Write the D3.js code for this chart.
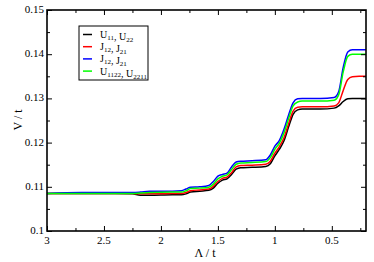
<!DOCTYPE html>
<html>
<head>
<meta charset="utf-8">
<script src="https://cdn.jsdelivr.net/npm/d3@7"></script>
<style>
html,body{margin:0;padding:0;background:#fff;}
svg{display:block;}
text{font-family:"Liberation Serif","Times New Roman",serif;}
</style>
</head>
<body>
<svg id="c" width="374" height="262"></svg>
<script>
const lambda = [3.0,2.7,2.4,2.25,2.18,2.1,1.9,1.82,1.78,1.74,1.66,1.58,1.54,1.50,1.46,1.42,1.38,1.34,1.30,1.20,1.08,1.04,1.00,0.96,0.92,0.88,0.84,0.80,0.76,0.60,0.48,0.44,0.40,0.36,0.32,0.26,0.20];
const U11 = [0.1085,0.1085,0.1085,0.1084,0.1081,0.1081,0.1082,0.1082,0.1084,0.1088,0.1090,0.1092,0.1097,0.1108,0.1115,0.1118,0.1128,0.1140,0.1143,0.1144,0.1146,0.1152,0.1170,0.1185,0.1204,0.1235,0.1264,0.1274,0.1276,0.1276,0.1278,0.1283,0.1293,0.1299,0.1300,0.1300,0.1300];
const J12 = [0.1085,0.1085,0.1085,0.1085,0.1084,0.1084,0.1085,0.1085,0.1087,0.1091,0.1093,0.1095,0.1101,0.1112,0.1119,0.1122,0.1132,0.1145,0.1148,0.1149,0.1151,0.1158,0.1176,0.1191,0.1211,0.1242,0.1271,0.1280,0.1281,0.1281,0.1283,0.1290,0.1318,0.1343,0.1349,0.1350,0.1350];
const J12p = [0.1085,0.1087,0.1087,0.1087,0.1088,0.1090,0.1090,0.1091,0.1095,0.1099,0.1100,0.1103,0.1112,0.1124,0.1128,0.1131,0.1145,0.1156,0.1158,0.1159,0.1161,0.1172,0.1192,0.1205,0.1230,0.1262,0.1290,0.1299,0.1300,0.1300,0.1302,0.1315,0.1370,0.1405,0.1410,0.1410,0.1410];
const U1122 = [0.1085,0.1085,0.1085,0.1085,0.1086,0.1087,0.1088,0.1088,0.1091,0.1096,0.1097,0.1099,0.1106,0.1118,0.1124,0.1127,0.1139,0.1151,0.1154,0.1155,0.1157,0.1166,0.1185,0.1199,0.1222,0.1254,0.1283,0.1292,0.1294,0.1294,0.1296,0.1308,0.1360,0.1395,0.1400,0.1400,0.1400];
const xTicks = [3,2.5,2,1.5,1,0.5];
const xMinor = [2.75,2.25,1.75,1.25,0.75,0.25];
const yTicks = [0.1,0.11,0.12,0.13,0.14,0.15];
const yMinor = [0.105,0.115,0.125,0.135,0.145];
const seriesNames = [["U",["11"],", U",["22"]],["J",["12"],", J",["21"]],["J",["12"],", J",["21"]],["U",["1122"],", U",["2211"]]];
const seriesColors = ["#000000","#ff0000","#0000ff","#00ff00"];
const seriesData = [U11,J12,J12p,U1122];

const svg = d3.select("#c");
const L=47,R=366,T=10,B=231;
const x = d3.scaleLinear().domain([3,0.2]).range([L,R]);
const y = d3.scaleLinear().domain([0.1,0.15]).range([B,T]);

const line = d3.line().x(d=>x(d[0])).y(d=>y(d[1])).curve(d3.curveMonotoneX);
const g = svg.append("g");
seriesData.forEach((vals,i)=>{
  g.append("path").datum(lambda.map((l,j)=>[l,vals[j]]))
   .attr("d",line).attr("fill","none").attr("stroke",seriesColors[i]).attr("stroke-width",1.5);
});

// axes
function axis(gen, tr, vals, size, labels){
  const a = svg.append("g").attr("transform",tr)
    .call(gen.tickValues(vals).tickSize(size).tickFormat(labels?null:""));
  a.select(".domain").remove();
  a.selectAll("line").attr("stroke","#000").attr("stroke-width",1);
  return a;
}
const fmt = d3.format("");
const bx = axis(d3.axisTop(x).tickFormat(d=>d), `translate(0,${B})`, xTicks, 5, true);
bx.selectAll("text").remove();
axis(d3.axisTop(x), `translate(0,${B})`, xMinor, 3, false);
axis(d3.axisBottom(x), `translate(0,${T})`, xTicks, 5, false);
axis(d3.axisBottom(x), `translate(0,${T})`, xMinor, 3, false);
const ly = axis(d3.axisRight(y), `translate(${L},0)`, yTicks, 5, false);
axis(d3.axisRight(y), `translate(${L},0)`, yMinor, 3, false);
axis(d3.axisLeft(y), `translate(${R},0)`, yTicks, 5, false);
axis(d3.axisLeft(y), `translate(${R},0)`, yMinor, 3, false);

svg.append("g").selectAll("text").data(xTicks).join("text")
  .attr("x",d=>x(d)).attr("y",B+13).attr("text-anchor","middle")
  .attr("font-size",11).text(d=>d);
svg.append("g").selectAll("text").data(yTicks).join("text")
  .attr("x",L-3).attr("y",d=>y(d)+3).attr("text-anchor","end")
  .attr("font-size",11).text(d=>d);

svg.append("rect").attr("x",L).attr("y",T).attr("width",R-L).attr("height",B-T)
  .attr("fill","none").attr("stroke","#000").attr("stroke-width",1.6);

svg.append("text").attr("x",205).attr("y",257).attr("text-anchor","middle")
  .attr("font-size",12).text("Λ  / t");
svg.append("text").attr("transform","translate(22,120) rotate(-90)").attr("text-anchor","middle")
  .attr("font-size",12).text("V / t");

// legend
const lg = svg.append("g");
lg.append("rect").attr("x",79).attr("y",26).attr("width",69).attr("height",54)
  .attr("fill","#fff").attr("stroke","#000").attr("stroke-width",1);
seriesNames.forEach((nm,i)=>{
  const yy = 34.5 + i*12.2;
  lg.append("line").attr("x1",83).attr("x2",92).attr("y1",yy).attr("y2",yy)
    .attr("stroke",seriesColors[i]).attr("stroke-width",1.5);
  const t = lg.append("text").attr("x",100).attr("y",yy+3.5).attr("font-size",10);
  nm.forEach(p=>{
    if(Array.isArray(p)){
      t.append("tspan").attr("font-size",7).attr("dy",2).text(p[0]);
      t.append("tspan").attr("dy",-2).text("");
    } else {
      t.append("tspan").text(p);
    }
  });
});
</script>
</body>
</html>
